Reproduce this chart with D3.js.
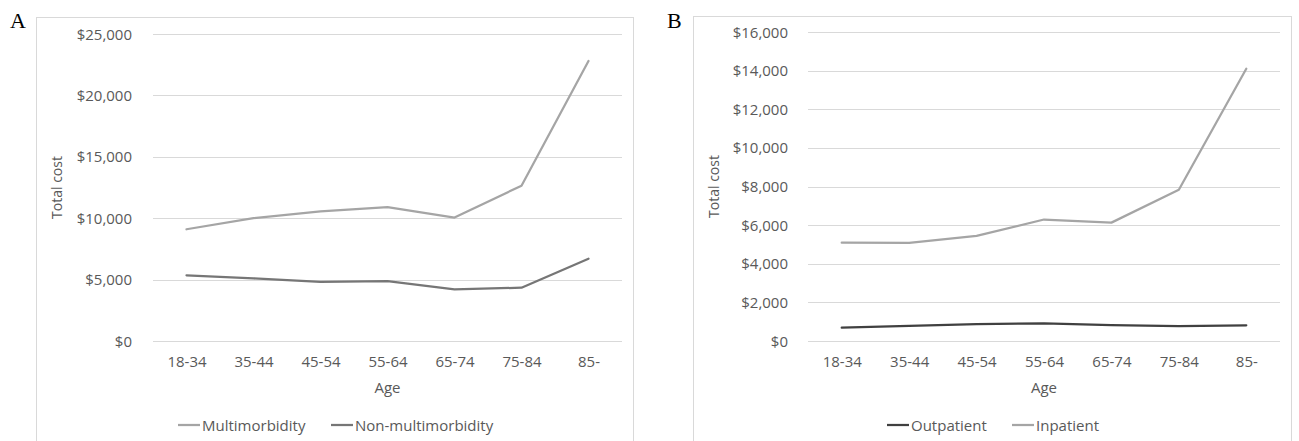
<!DOCTYPE html>
<html>
<head>
<meta charset="utf-8">
<script src="https://cdn.jsdelivr.net/npm/d3@7"></script>
<style>
  html, body { margin: 0; padding: 0; background: #fff; }
  svg { display: block; }
  text { font-family: "Open Sans", sans-serif; fill: #595959; }
</style>
</head>
<body>
<svg id="chart" width="1299" height="441"></svg>
<script>
// Age groups shared by both panels
const ageGroups = ["18-34", "35-44", "45-54", "55-64", "65-74", "75-84", "85-"];

// Panel A: total cost by multimorbidity status
const multimorbidity    = [9100, 10000, 10550, 10900, 10050, 12650, 22800];
const nonMultimorbidity = [5350, 5100, 4820, 4880, 4210, 4340, 6700];
const ticksA = [0, 5000, 10000, 15000, 20000, 25000];

// Panel B: total cost by care setting
const outpatient = [690, 780, 870, 910, 820, 770, 810];
const inpatient  = [5090, 5080, 5440, 6290, 6130, 7830, 14100];
const ticksB = [0, 2000, 4000, 6000, 8000, 10000, 12000, 14000, 16000];

const svg = d3.select("#chart");
const money = d3.format("$,");

function panel(cfg) {
  const g = svg.append("g");

  // outer chart frame (bottom runs past the page)
  g.append("rect")
    .attr("x", cfg.frame[0]).attr("y", cfg.frame[1])
    .attr("width", cfg.frame[2] - cfg.frame[0])
    .attr("height", 460 - cfg.frame[1])
    .attr("fill", "none").attr("stroke", "#d9d9d9").attr("stroke-width", 1);

  // panel letter
  g.append("text")
    .attr("x", cfg.letterX).attr("y", 28)
    .style("font-family", "'Liberation Serif', 'DejaVu Serif', serif")
    .style("font-size", "22px").style("fill", "#000")
    .text(cfg.letter);

  const x = d3.scalePoint().domain(ageGroups)
    .range([cfg.plot[0], cfg.plot[1]]).padding(0.5);
  const y = d3.scaleLinear().domain([0, d3.max(cfg.ticks)])
    .range([cfg.plot[3], cfg.plot[2]]);

  // horizontal gridlines
  g.append("g").selectAll("line").data(cfg.ticks).join("line")
    .attr("x1", cfg.plot[0]).attr("x2", cfg.plot[1])
    .attr("y1", d => Math.round(y(d)) + 0.5).attr("y2", d => Math.round(y(d)) + 0.5)
    .attr("stroke", "#d9d9d9").attr("stroke-width", 1);

  // y axis labels
  const yAxis = d3.axisLeft(y).tickValues(cfg.ticks).tickFormat(money).tickSize(0).tickPadding(0);
  const ya = g.append("g").attr("transform", `translate(${cfg.yLabelX},0)`).call(yAxis);
  ya.select(".domain").remove();
  ya.selectAll("text").style("font-family", "'Open Sans', sans-serif")
    .style("font-size", "15px").attr("fill", "#595959").attr("dy", "0.34em");

  // x axis labels
  const xAxis = d3.axisBottom(x).tickSize(0).tickPadding(0);
  const xa = g.append("g").attr("transform", `translate(0,${cfg.plot[3] + 17})`).call(xAxis);
  xa.select(".domain").remove();
  xa.selectAll("text").style("font-family", "'Open Sans', sans-serif")
    .style("font-size", "15px").attr("fill", "#595959").attr("dy", "0.6em");

  // axis titles
  g.append("text")
    .attr("x", (cfg.plot[0] + cfg.plot[1]) / 2).attr("y", 393)
    .attr("text-anchor", "middle").style("font-size", "15px").text("Age");
  g.append("text")
    .attr("transform", `translate(${cfg.titleX},${(cfg.plot[2] + cfg.plot[3]) / 2}) rotate(-90)`)
    .attr("text-anchor", "middle").style("font-size", "14px").text("Total cost");

  // series lines
  const line = d3.line().x((d, i) => x(ageGroups[i])).y(d => y(d));
  cfg.series.forEach(s => {
    g.append("path").datum(s.values)
      .attr("d", line).attr("fill", "none")
      .attr("stroke", s.color).attr("stroke-width", 2.25)
      .attr("stroke-linejoin", "round").attr("stroke-linecap", "round");
  });

  // legend
  cfg.series.forEach(s => {
    const lg = g.append("g").attr("transform", `translate(${s.legendX},425)`);
    lg.append("line").attr("x1", 0).attr("x2", 22).attr("y1", 0).attr("y2", 0)
      .attr("stroke", s.color).attr("stroke-width", 2.25);
    lg.append("text").attr("x", 24).attr("y", 5.5)
      .style("font-size", "15px").text(s.name);
  });
}

panel({
  letter: "A", letterX: 10,
  frame: [36.5, 17.5, 633.5],
  plot: [153, 622, 34, 341],
  yLabelX: 132, titleX: 62,
  ticks: ticksA,
  series: [
    { name: "Multimorbidity", values: multimorbidity, color: "#a5a5a5", legendX: 178 },
    { name: "Non-multimorbidity", values: nonMultimorbidity, color: "#767676", legendX: 331 }
  ]
});

panel({
  letter: "B", letterX: 667,
  frame: [693.5, 16.5, 1291.5],
  plot: [808, 1280, 32, 341],
  yLabelX: 788, titleX: 719,
  ticks: ticksB,
  series: [
    { name: "Outpatient", values: outpatient, color: "#404040", legendX: 887 },
    { name: "Inpatient", values: inpatient, color: "#a5a5a5", legendX: 1012 }
  ]
});
</script>
</body>
</html>
